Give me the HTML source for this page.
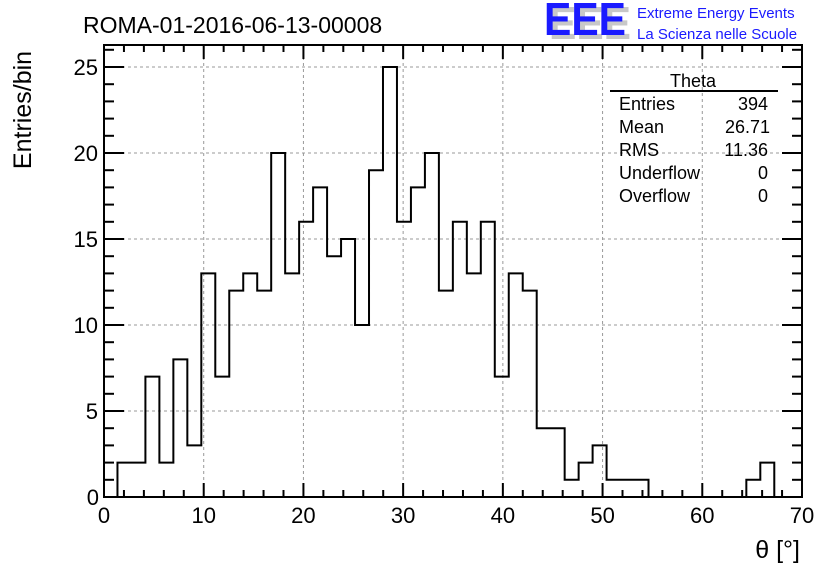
<!DOCTYPE html>
<html><head><meta charset="utf-8"><style>
html,body{margin:0;padding:0;background:#fff;}
svg{display:block;font-family:"Liberation Sans",Arial,sans-serif;}
</style></head><body>
<svg id="chart" width="836" height="572" viewBox="0 0 836 572">
<g id="grid"></g>
<g id="hist"></g>
<g id="axes"></g>
<text x="83" y="33" font-size="23">ROMA-01-2016-06-13-00008</text>
<g>
<text x="549" y="39" font-size="46" font-weight="bold" fill="#c8c8c8" textLength="82" lengthAdjust="spacingAndGlyphs">EEE</text>
<text x="544" y="35" font-size="46" font-weight="bold" fill="#1a1aff" textLength="82" lengthAdjust="spacingAndGlyphs">EEE</text>
<text x="637" y="18" font-size="15" fill="#1a1aff">Extreme Energy Events</text>
<text x="637" y="39" font-size="15" fill="#1a1aff">La Scienza nelle Scuole</text>
</g>
<text transform="translate(31,110) rotate(-90)" text-anchor="middle" font-size="25">Entries/bin</text>
<text x="800" y="558" text-anchor="end" font-size="25">θ [°]</text>
<g font-size="18">
<text x="693" y="87" text-anchor="middle">Theta</text>
<line x1="610" y1="91" x2="778" y2="91" stroke="#000" stroke-width="2"/>
<text x="619" y="110">Entries</text><text x="768" y="110" text-anchor="end">394</text>
<text x="619" y="133">Mean</text><text x="770" y="133" text-anchor="end">26.71</text>
<text x="619" y="156">RMS</text><text x="768" y="156" text-anchor="end">11.36</text>
<text x="619" y="179">Underflow</text><text x="768" y="179" text-anchor="end">0</text>
<text x="619" y="202">Overflow</text><text x="768" y="202" text-anchor="end">0</text>
</g>
</svg>
<script>
const counts = [2,2,7,2,8,3,13,7,12,13,12,20,13,16,18,14,15,10,19,25,16,18,20,12,16,13,16,7,13,12,4,4,1,2,3,1,1,1,0,0,0,0,0,0,0,1,2];
const binStart = [1.35];
const binWidth = [1.4015];
const xTicks = [0,10,20,30,40,50,60,70];
const yTicks = [0,5,10,15,20,25];
const NS='http://www.w3.org/2000/svg';
const X0=104,X1=802,Y0=497,YT=45;
const xs=v=>X0+(v-0)/(70-0)*(X1-X0);
const ys=v=>Y0-v*(497-67)/25;
function mk(tag,attrs,parent){const e=document.createElementNS(NS,tag);for(const k in attrs)e.setAttribute(k,attrs[k]);parent.appendChild(e);return e;}
const grid=document.getElementById('grid'),axes=document.getElementById('axes'),hist=document.getElementById('hist');
xTicks.forEach(t=>{if(t>0&&t<70){const l=mk('line',{x1:xs(t),x2:xs(t),y1:YT,y2:Y0,stroke:'#999','stroke-dasharray':'3,3','stroke-width':1},grid);

}});
yTicks.forEach(t=>{if(t>0){const l=mk('line',{x1:X0,x2:X1,y1:ys(t),y2:ys(t),stroke:'#999','stroke-dasharray':'3,3','stroke-width':1},grid);

}});
// histogram path
let d='';const b0=binStart[0],w=binWidth[0];
d+='M'+xs(b0)+','+ys(0);
counts.forEach((c,i)=>{const a=xs(b0+i*w),b=xs(b0+(i+1)*w);d+=' L'+a+','+ys(c)+' L'+b+','+ys(c);});
d+=' L'+xs(b0+counts.length*w)+','+ys(0);
const p=mk('path',{d:d,fill:'none',stroke:'#000','stroke-width':2},hist);


// frame
const fr=mk('rect',{x:X0,y:YT,width:X1-X0,height:Y0-YT,fill:'none',stroke:'#000','stroke-width':2},axes);


// x ticks
for(let v=0;v<=70;v+=2){const L=(v%10===0)?14:7;const x=xs(v);
mk('line',{x1:x,x2:x,y1:Y0,y2:Y0-L,stroke:'#000','stroke-width':2},axes);
mk('line',{x1:x,x2:x,y1:YT,y2:YT+L,stroke:'#000','stroke-width':2},axes);}
xTicks.forEach(t=>{const e=mk('text',{x:xs(t),y:523,'text-anchor':'middle','font-size':22},axes);e.textContent=t;

});
// y ticks
for(let v=0;v<=26;v++){const L=(v%5===0)?20:10;const y=ys(v);
mk('line',{x1:X0,x2:X0+L,y1:y,y2:y,stroke:'#000','stroke-width':2},axes);
mk('line',{x1:X1,x2:X1-L,y1:y,y2:y,stroke:'#000','stroke-width':2},axes);}
yTicks.forEach(t=>{const e=mk('text',{x:t===0?99:98,y:ys(t)+8,'text-anchor':'end','font-size':22},axes);e.textContent=t;

});
</script>
</body></html>
